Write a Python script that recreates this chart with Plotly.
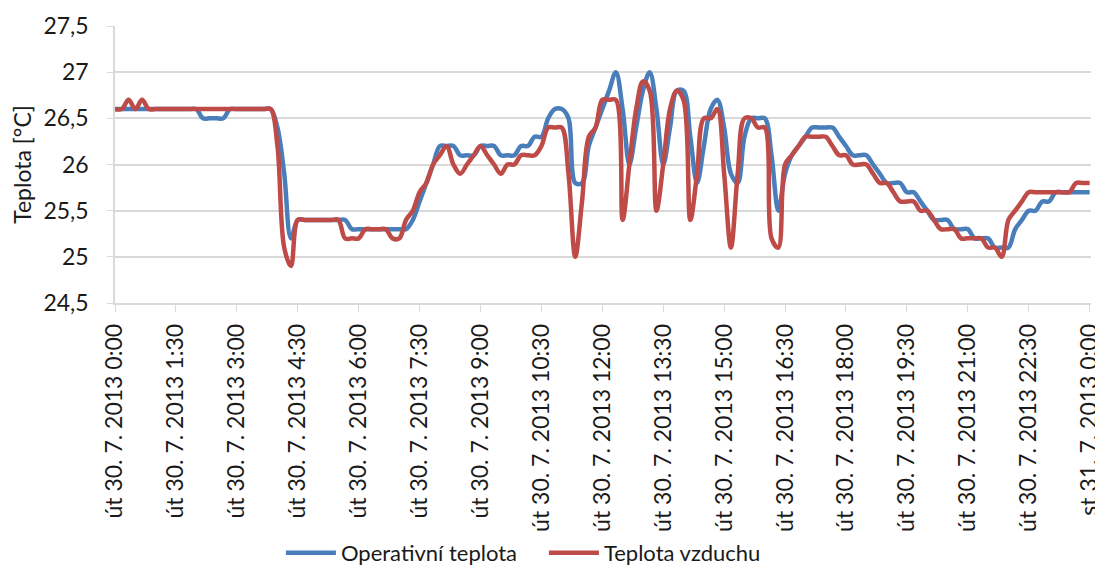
import pandas as pd
import plotly.graph_objects as go

# 10-min samples, 30. 7. 2013 0:00 -> 31. 7. 2013 0:00
cas = pd.date_range('2013-07-30 00:00', '2013-07-31 00:00', freq='10min')

operativni = [
    26.6, 26.6, 26.6, 26.6, 26.6, 26.6,   # 0
    26.6, 26.6, 26.6, 26.6, 26.6, 26.6,   # 1
    26.6, 26.5, 26.5, 26.5, 26.5, 26.6,   # 2
    26.6, 26.6, 26.6, 26.6, 26.6, 26.6,   # 3
    26.4, 25.9, 25.2, 25.4, 25.4, 25.4,   # 4
    25.4, 25.4, 25.4, 25.4, 25.4, 25.3,   # 5
    25.3, 25.3, 25.3, 25.3, 25.3, 25.3,   # 6
    25.3, 25.3, 25.4, 25.6, 25.8, 26.0,   # 7
    26.2, 26.2, 26.2, 26.1, 26.1, 26.1,   # 8
    26.2, 26.2, 26.2, 26.1, 26.1, 26.1,   # 9
    26.2, 26.2, 26.3, 26.3, 26.5, 26.6,   # 10
    26.6, 26.5, 25.8, 25.8, 26.2, 26.4,   # 11
    26.6, 26.8, 27.0, 26.6, 26.0, 26.4,   # 12
    26.8, 27.0, 26.6, 26.0, 26.4, 26.8,   # 13
    26.8, 26.3, 25.8, 26.2, 26.6, 26.7,   # 14
    26.4, 25.9, 25.8, 26.3, 26.5, 26.5,   # 15
    26.5, 26.1, 25.5, 25.9, 26.1, 26.2,   # 16
    26.3, 26.4, 26.4, 26.4, 26.4, 26.3,   # 17
    26.2, 26.1, 26.1, 26.1, 26.0, 25.9,   # 18
    25.8, 25.8, 25.8, 25.7, 25.7, 25.6,   # 19
    25.5, 25.4, 25.4, 25.4, 25.3, 25.3,   # 20
    25.3, 25.2, 25.2, 25.2, 25.1, 25.1,   # 21
    25.1, 25.3, 25.4, 25.5, 25.5, 25.6,   # 22
    25.6, 25.7, 25.7, 25.7, 25.7, 25.7,   # 23
    25.7,
]

vzduch = [
    26.6, 26.6, 26.7, 26.6, 26.7, 26.6,   # 0
    26.6, 26.6, 26.6, 26.6, 26.6, 26.6,   # 1
    26.6, 26.6, 26.6, 26.6, 26.6, 26.6,   # 2
    26.6, 26.6, 26.6, 26.6, 26.6, 26.6,   # 3
    26.2, 25.1, 24.9, 25.4, 25.4, 25.4,   # 4
    25.4, 25.4, 25.4, 25.4, 25.2, 25.2,   # 5
    25.2, 25.3, 25.3, 25.3, 25.3, 25.2,   # 6
    25.2, 25.4, 25.5, 25.7, 25.8, 26.0,   # 7
    26.1, 26.2, 26.0, 25.9, 26.0, 26.1,   # 8
    26.2, 26.1, 26.0, 25.9, 26.0, 26.0,   # 9
    26.1, 26.1, 26.1, 26.2, 26.4, 26.4,   # 10
    26.4, 25.9, 25.0, 25.6, 26.3, 26.4,   # 11
    26.7, 26.7, 26.7, 25.4, 26.0, 26.6,   # 12
    26.9, 26.8, 25.5, 26.0, 26.6, 26.8,   # 13
    26.7, 25.4, 25.9, 26.5, 26.5, 26.6,   # 14
    25.9, 25.1, 25.9, 26.5, 26.5, 26.4,   # 15
    26.4, 25.2, 25.1, 26.0, 26.1, 26.2,   # 16
    26.3, 26.3, 26.3, 26.3, 26.2, 26.1,   # 17
    26.1, 26.0, 26.0, 26.0, 25.9, 25.8,   # 18
    25.8, 25.7, 25.6, 25.6, 25.6, 25.5,   # 19
    25.5, 25.4, 25.3, 25.3, 25.3, 25.2,   # 20
    25.2, 25.2, 25.2, 25.1, 25.1, 25.0,   # 21
    25.4, 25.5, 25.6, 25.7, 25.7, 25.7,   # 22
    25.7, 25.7, 25.7, 25.7, 25.8, 25.8,   # 23
    25.8,
]

tick_casy = pd.date_range('2013-07-30 00:00', '2013-07-31 00:00', freq='90min')
tick_popisky = [
    'út 30. 7. 2013 0:00', 'út 30. 7. 2013 1:30', 'út 30. 7. 2013 3:00',
    'út 30. 7. 2013 4:30', 'út 30. 7. 2013 6:00', 'út 30. 7. 2013 7:30',
    'út 30. 7. 2013 9:00', 'út 30. 7. 2013 10:30', 'út 30. 7. 2013 12:00',
    'út 30. 7. 2013 13:30', 'út 30. 7. 2013 15:00', 'út 30. 7. 2013 16:30',
    'út 30. 7. 2013 18:00', 'út 30. 7. 2013 19:30', 'út 30. 7. 2013 21:00',
    'út 30. 7. 2013 22:30', 'st 31. 7. 2013 0:00',
]

fig = go.Figure()
fig.add_trace(go.Scatter(x=cas, y=operativni, mode='lines',
                         line=dict(color='#4A7EBB', width=4.5, shape='spline', smoothing=1),
                         name='Operativní teplota'))
fig.add_trace(go.Scatter(x=cas, y=vzduch, mode='lines',
                         line=dict(color='#BE4B48', width=4.5, shape='spline', smoothing=1),
                         name='Teplota vzduchu'))

# page body adds an 8 px offset, so the figure is 8 px smaller and margins shifted
fig.update_layout(
    width=1095,
    height=560,
    separators=', ',
    plot_bgcolor='white',
    paper_bgcolor='white',
    font=dict(family='Lato, Liberation Sans, sans-serif', size=23, color='#1a1a1a'),
    margin=dict(l=107, r=12, t=18, b=265),
    legend=dict(orientation='h', xref='paper', x=0.170, xanchor='left',
                yref='container', y=1 - 545 / 560, yanchor='middle',
                font=dict(size=22), itemwidth=50,
                entrywidth=198, entrywidthmode='pixels'),
    xaxis=dict(
        range=[cas[0], cas[-1] + pd.Timedelta(minutes=2)],
        tickvals=tick_casy,
        ticktext=tick_popisky,
        tickangle=-90,
        showgrid=False,
        showline=True,
        linecolor='#d9d9d9',
        linewidth=1.5,
        ticks='outside',
        ticklen=7,
        tickcolor='#d9d9d9',
        ticklabelstandoff=3,
        automargin=False,
    ),
    yaxis=dict(
        range=[24.5, 27.5],
        dtick=0.5,
        tickformat='.1~f',
        showgrid=True,
        gridcolor='#d9d9d9',
        gridwidth=1.5,
        showline=True,
        linecolor='#d9d9d9',
        linewidth=1.5,
        ticks='outside',
        ticklen=6,
        tickcolor='#d9d9d9',
        ticklabelstandoff=14,
        zeroline=False,
        automargin=False,
        title=dict(text='Teplota [°C]', font=dict(size=23), standoff=17),
    ),
)

fig.write_html("out.html")
